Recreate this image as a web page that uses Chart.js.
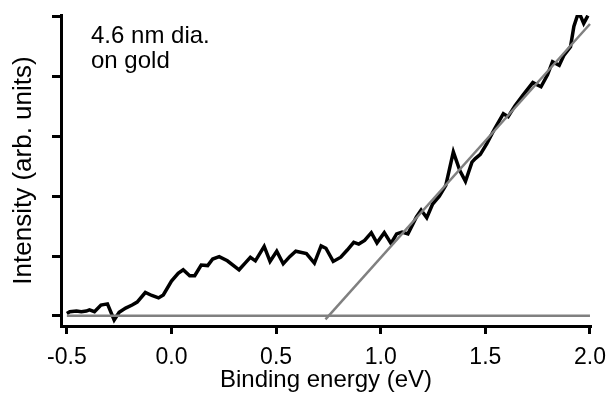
<!DOCTYPE html>
<html>
<head>
<meta charset="utf-8">
<script src="https://cdn.jsdelivr.net/npm/chart.js@4/dist/chart.umd.min.js"></script>
<style>
  html, body { margin: 0; padding: 0; background: #fff; }
  #grafico { display: block; }
</style>
</head>
<body>
<canvas id="grafico" width="616" height="394"></canvas>
<script>
// valores
const energia = [-0.50, -0.486, -0.454, -0.431, -0.407, -0.392, -0.368, -0.337, -0.306, -0.274,
  -0.250, -0.219, -0.188, -0.164, -0.125, -0.094, -0.062, -0.039, 0.000, 0.032,
  0.056, 0.087, 0.111, 0.142, 0.173, 0.197, 0.228, 0.267, 0.323, 0.354,
  0.377, 0.401, 0.443, 0.471, 0.503, 0.534, 0.565, 0.594, 0.645, 0.683,
  0.715, 0.738, 0.773, 0.809, 0.840, 0.871, 0.895, 0.923, 0.955, 0.982,
  1.017, 1.049, 1.076, 1.102, 1.130, 1.170, 1.193, 1.220, 1.248, 1.280,
  1.311, 1.347, 1.378, 1.405, 1.436, 1.452, 1.476, 1.507, 1.543, 1.586,
  1.609, 1.641, 1.680, 1.727, 1.766, 1.797, 1.821, 1.853, 1.876, 1.907,
  1.923, 1.939, 1.954, 1.970, 1.990];
const intensidad = [0.04, 0.07, 0.08, 0.07, 0.08, 0.10, 0.07, 0.18, 0.20, -0.07,
  0.06, 0.13, 0.18, 0.23, 0.39, 0.34, 0.30, 0.35, 0.58, 0.71,
  0.77, 0.67, 0.67, 0.85, 0.84, 0.95, 0.99, 0.92, 0.77, 0.89,
  0.98, 0.92, 1.16, 0.91, 1.08, 0.87, 0.99, 1.08, 1.04, 0.88,
  1.17, 1.13, 0.91, 0.98, 1.10, 1.23, 1.20, 1.26, 1.39, 1.22,
  1.39, 1.21, 1.37, 1.40, 1.37, 1.65, 1.77, 1.64, 1.87, 2.00,
  2.18, 2.74, 2.43, 2.25, 2.57, 2.63, 2.70, 2.88, 3.12, 3.38,
  3.33, 3.51, 3.69, 3.90, 3.83, 4.03, 4.25, 4.19, 4.36, 4.50,
  4.84, 5.01, 5.02, 4.89, 5.02];

// linea de base y ajuste lineal
const baseX = [-0.5, 2.0];
const baseY = [0, 0];
const ajusteX = [0.736, 2.0];
const ajusteY = [-0.06, 4.88];

const ticksX = [-0.5, 0.0, 0.5, 1.0, 1.5, 2.0];
const ticksY = [0, 1, 2, 3, 4, 5];
const nota = ["4.6 nm dia.", "on gold"];

const fuente = "'Liberation Sans', Arial, Helvetica, sans-serif";
const aPuntos = (xs, ys) => xs.map((x, i) => ({ x: x, y: ys[i] }));

const notaPlugin = {
  id: "nota",
  afterDraw(chart) {
    const { ctx, chartArea } = chart;
    ctx.save();
    ctx.fillStyle = "#000";
    ctx.font = "24px " + fuente;
    ctx.textBaseline = "alphabetic";
    nota.forEach((linea, i) => {
      ctx.fillText(linea, chartArea.left + 30, chartArea.top + 28 + i * 25);
    });
    ctx.restore();
  }
};

const ctx = document.getElementById("grafico");
const grafico = new Chart(ctx, {
  type: "line",
  data: {
    datasets: [
      {
        data: aPuntos(ajusteX, ajusteY),
        borderColor: "rgb(128,128,128)",
        borderWidth: 2.5,
        pointRadius: 0,
        order: 0
      },
      {
        data: aPuntos(baseX, baseY),
        borderColor: "rgb(128,128,128)",
        borderWidth: 2.5,
        pointRadius: 0,
        order: 1
      },
      {
        data: aPuntos(energia, intensidad),
        borderColor: "#000",
        borderWidth: 3.5,
        pointRadius: 0,
        tension: 0,
        order: 2
      }
    ]
  },
  options: {
    responsive: false,
    animation: false,
    devicePixelRatio: 1,
    layout: { padding: { top: 15, right: 18, left: 0, bottom: 0 } },
    plugins: { legend: { display: false }, tooltip: { enabled: false } },
    scales: {
      x: {
        type: "linear",
        min: -0.528,
        max: 2.005,
        afterBuildTicks: (eje) => { eje.ticks = ticksX.map(v => ({ value: v })); },
        afterFit: (eje) => { eje.height = 68; },
        grid: { drawOnChartArea: false, drawTicks: true, tickLength: 8, tickColor: "#000", tickWidth: 3 },
        border: { display: true, color: "#000", width: 3 },
        ticks: {
          color: "#000",
          padding: 10,
          maxRotation: 0,
          font: { family: fuente, size: 23 },
          callback: (v) => Number(v).toFixed(1)
        },
        title: {
          display: true,
          text: "Binding energy (eV)",
          color: "#000",
          font: { family: fuente, size: 24 },
          padding: { top: 0, bottom: -1 }
        }
      },
      y: {
        type: "linear",
        min: -0.17,
        max: 5.03,
        afterBuildTicks: (eje) => { eje.ticks = ticksY.map(v => ({ value: v })); },
        afterFit: (eje) => { eje.width = 61; },
        grid: { drawOnChartArea: false, drawTicks: true, tickLength: 9, tickColor: "#000", tickWidth: 3 },
        border: { display: true, color: "#000", width: 3 },
        ticks: { callback: () => "" },
        title: {
          display: true,
          text: "Intensity (arb. units)",
          color: "#000",
          font: { family: fuente, size: 26 },
          padding: { top: 8, bottom: 0 }
        }
      }
    }
  },
  plugins: [notaPlugin]
});
</script>
</body>
</html>
